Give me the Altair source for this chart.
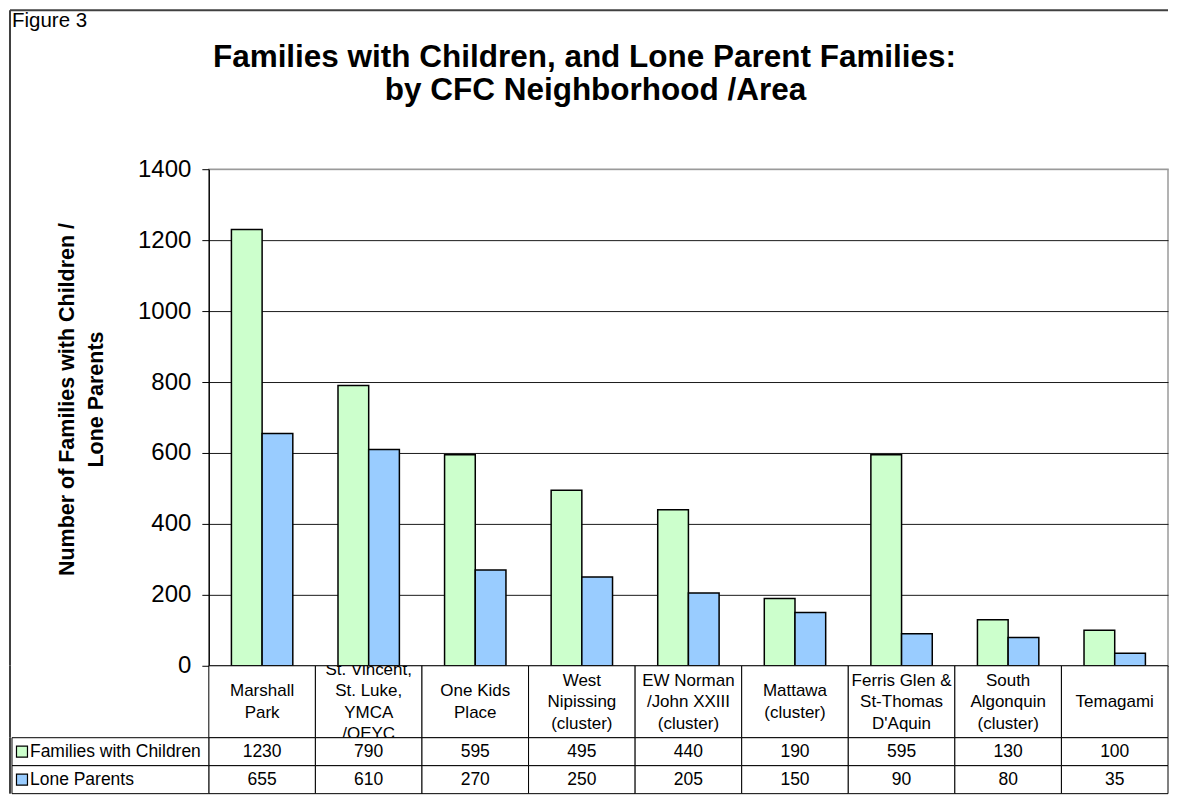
import altair as alt
import pandas as pd

# ---------------- data ----------------
categories = [
    "Marshall\nPark",
    "St. Vincent,\nSt. Luke,\nYMCA\n/OEYC",
    "One Kids\nPlace",
    "West\nNipissing\n(cluster)",
    "EW Norman\n/John XXIII\n(cluster)",
    "Mattawa\n(cluster)",
    "Ferris Glen &\nSt-Thomas\nD'Aquin",
    "South\nAlgonquin\n(cluster)",
    "Temagami",
]
series_names = ["Families with Children", "Lone Parents"]
families = [1230, 790, 595, 495, 440, 190, 595, 130, 100]
lone_parents = [655, 610, 270, 250, 205, 150, 90, 80, 35]
series_colors = ["#CCFFCC", "#99CCFF"]
y_ticks = [0, 200, 400, 600, 800, 1000, 1200, 1400]
title_lines = ["Families with Children, and Lone Parent Families:", "by CFC Neighborhood /Area"]
y_title = ["Number of Families with Children /", "Lone Parents"]
figure_label = "Figure 3"

rows = []
for c, f, l in zip(categories, families, lone_parents):
    rows.append({"cat": c, "series": series_names[0], "value": f})
    rows.append({"cat": c, "series": series_names[1], "value": l})
df = pd.DataFrame(rows)
cat_df = pd.DataFrame({"cat": categories})

FONT = "Liberation Sans"
TOP = 160          # space above plot area inside the svg
W = 960
H = 497
ROW1 = 72
ROWV = 56
LH = 21.5
FRAME = "#404040"
one = alt.Data(values=[{}])

color_scale = alt.Scale(domain=series_names, range=series_colors)

# ---------------- main chart ----------------
bars = alt.Chart(df).mark_bar(stroke="black", strokeWidth=1.5).encode(
    x=alt.X("cat:N", sort=categories, axis=None,
            scale=alt.Scale(paddingInner=0.424, paddingOuter=0.212)),
    xOffset=alt.XOffset("series:N", sort=series_names),
    y=alt.Y("value:Q", scale=alt.Scale(domain=[0, 1400], nice=False),
            axis=alt.Axis(values=y_ticks, format="d", title=y_title, grid=True,
                          gridColor=alt.condition("datum.value == 1400", alt.value("#9a9a9a"), alt.value("#1a1a1a")),
                          gridWidth=1, domainColor="black", domainWidth=1.2,
                          tickColor="black", tickSize=7, labelPadding=11,
                          labelFontSize=24, labelColor="black", labelFont=FONT,
                          titleFont=FONT, titleFontSize=21.5, titleFontWeight="bold",
                          titleColor="black", titleAngle=270, titleAlign="center",
                          titleBaseline="middle", titleLineHeight=29,
                          titleX=-141, titleY=230)),
    color=alt.Color("series:N", scale=color_scale, legend=None),
)

t1 = alt.Chart(one).mark_text(text=title_lines[0], font=FONT, fontSize=31.5, fontWeight="bold",
                              align="center", baseline="alphabetic", color="black").encode(
    x=alt.value(376), y=alt.value(66 - 8 - TOP))
t2 = alt.Chart(one).mark_text(text=title_lines[1], font=FONT, fontSize=31.5, fontWeight="bold",
                              align="center", baseline="alphabetic", color="black").encode(
    x=alt.value(387), y=alt.value(99 - 8 - TOP))
fig = alt.Chart(one).mark_text(text=figure_label, font=FONT, fontSize=20.5,
                               align="left", baseline="alphabetic", color="black").encode(
    x=alt.value(-197), y=alt.value(26 - 8 - TOP))
frame_top = alt.Chart(one).mark_rule(color=FRAME, strokeWidth=2).encode(
    x=alt.value(-199), x2=alt.value(W), y=alt.value(-TOP + 1))
frame_left = alt.Chart(one).mark_rule(color=FRAME, strokeWidth=2).encode(
    x=alt.value(-199), y=alt.value(-TOP + 1), y2=alt.value(H))

main = alt.layer(bars, t1, t2, fig, frame_top, frame_left).properties(
    width=W, height=H, view=alt.ViewConfig(stroke="#9a9a9a", strokeWidth=1.5))

# ---------------- table: label row ----------------
xband = alt.X("cat:N", sort=categories, axis=None, scale=alt.Scale(paddingInner=0, paddingOuter=0))
cells1 = alt.Chart(cat_df).mark_rect(fill="white", stroke="black", strokeWidth=1).encode(
    x=xband, y=alt.value(0), y2=alt.value(ROW1))
labels1 = alt.Chart(cat_df).transform_calculate(
    nlines="length(split(datum.cat, '\\n'))"
).transform_calculate(
    ypos=f"{ROW1 / 2 + 0.5} - (datum.nlines - 1) * {LH / 2}"
).mark_text(font=FONT, fontSize=17, lineBreak="\n", lineHeight=LH,
            align="center", baseline="middle", color="black", clip=True).encode(
    x=xband,
    y=alt.Y("ypos:Q", axis=None, scale=alt.Scale(domain=[0, ROW1], range=[0, ROW1], nice=False, zero=False)),
    text="cat:N")
frame_left1 = alt.Chart(one).mark_rule(color=FRAME, strokeWidth=2).encode(
    x=alt.value(-199), y=alt.value(0), y2=alt.value(ROW1))
row1 = alt.layer(cells1, labels1, frame_left1).properties(
    width=W, height=ROW1, view=alt.ViewConfig(strokeOpacity=0))

# ---------------- table: value rows ----------------
yband = alt.Y("series:N", sort=series_names, axis=None, scale=alt.Scale(paddingInner=0, paddingOuter=0))
cells2 = alt.Chart(df).mark_rect(fill="white", stroke="black", strokeWidth=1).encode(
    x=xband, y=yband)
vals2 = alt.Chart(df).mark_text(font=FONT, fontSize=17.5, align="center", baseline="middle",
                                color="black").encode(
    x=xband, y=yband, text="value:Q")
leg_cells = alt.Chart(pd.DataFrame({"series": series_names})).mark_rect(
    fill="white", stroke="black", strokeWidth=1).encode(
    x=alt.value(-197), x2=alt.value(0), y=yband)
leg_sw = alt.Chart(pd.DataFrame({"series": series_names})).mark_square(
    size=121, opacity=1, stroke="black", strokeWidth=1.2).encode(
    x=alt.value(-187), y=yband, fill=alt.Fill("series:N", scale=color_scale, legend=None))
leg_txt = alt.Chart(pd.DataFrame({"series": series_names})).mark_text(
    font=FONT, fontSize=17.5, align="left", baseline="middle", color="black").encode(
    x=alt.value(-179), y=yband, text="series:N")
frame_left2 = alt.Chart(one).mark_rule(color=FRAME, strokeWidth=2).encode(
    x=alt.value(-199), y=alt.value(0), y2=alt.value(ROWV))
row2 = alt.layer(cells2, vals2, leg_cells, leg_sw, leg_txt, frame_left2).properties(
    width=W, height=ROWV, view=alt.ViewConfig(strokeOpacity=0))

chart = alt.vconcat(main, row1, row2, spacing=0, bounds="flush").resolve_scale(
    x="independent", y="independent", color="independent", fill="independent"
).properties(padding=0, background="white")

chart.save("out.html", embed_options={"renderer": "svg", "actions": False})
